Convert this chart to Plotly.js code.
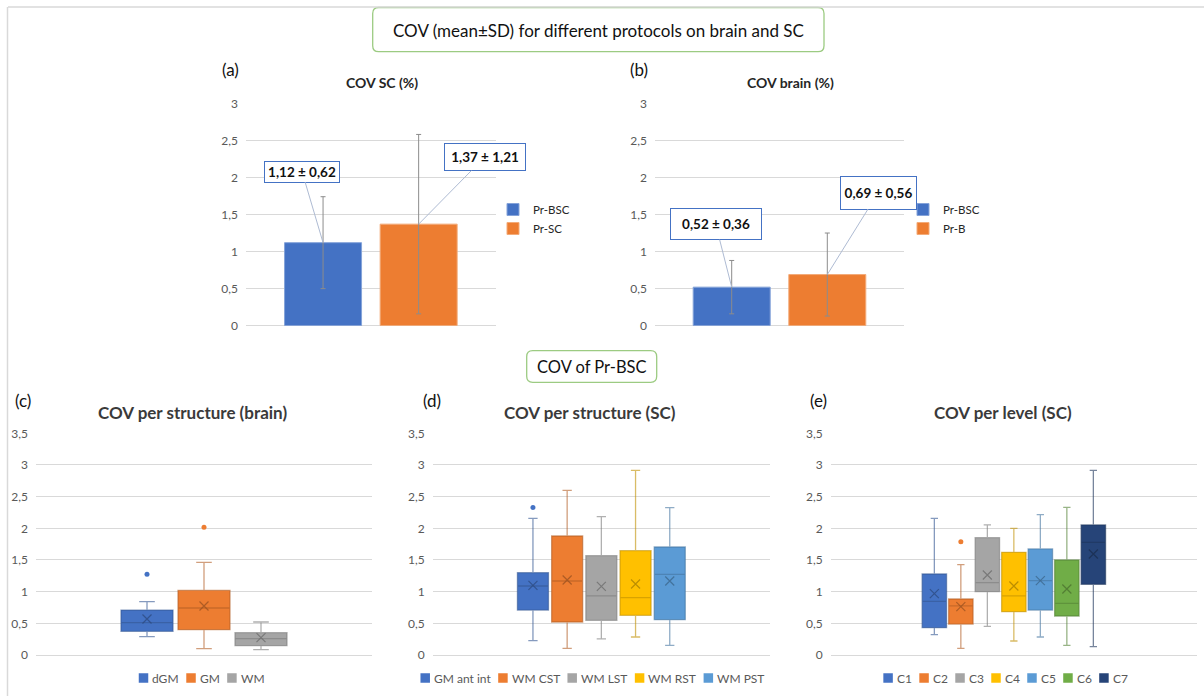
<!DOCTYPE html>
<html>
<head>
<meta charset="utf-8">
<script src="https://cdn.plot.ly/plotly-3.0.1.min.js"></script>
<style>html,body{margin:0;padding:0;background:#fff;}#chart{width:1204px;height:696px;}</style>
</head>
<body>
<div id="chart"></div>
<script>
// ---------------- DATA ----------------
// (a) COV SC (%)
const catsA = ['Pr-BSC', 'Pr-SC'];
const meanA = [1.12, 1.37];
const sdA = [0.62, 1.21];
// (b) COV brain (%)
const catsB = ['Pr-BSC', 'Pr-B'];
const meanB = [0.52, 0.69];
const sdB = [0.36, 0.56];

// (c) COV per structure (brain)
const namesC = ['dGM', 'GM', 'WM'];
const q1C = [0.374, 0.40, 0.147];
const medC = [0.51, 0.742, 0.258];
const q3C = [0.71, 1.02, 0.353];
const loC = [0.29, 0.10, 0.084];
const hiC = [0.842, 1.463, 0.521];
const avgC = [0.568, 0.774, 0.274];
const outC = [[1.274], [2.016], []];

// (d) COV per structure (SC)
const namesD = ['GM ant int', 'WM CST', 'WM LST', 'WM RST', 'WM PST'];
const q1D = [0.71, 0.521, 0.547, 0.626, 0.558];
const medD = [1.089, 1.168, 0.932, 0.905, 1.274];
const q3D = [1.30, 1.879, 1.568, 1.647, 1.705];
const loD = [0.226, 0.105, 0.253, 0.284, 0.153];
const hiD = [2.158, 2.60, 2.184, 2.916, 2.326];
const avgD = [1.10, 1.184, 1.084, 1.121, 1.168];
const outD = [[2.33], [], [], [], []];

// (e) COV per level (SC)
const namesE = ['C1', 'C2', 'C3', 'C4', 'C5', 'C6', 'C7'];
const q1E = [0.432, 0.489, 1.0, 0.684, 0.71, 0.616, 1.116];
const medE = [0.847, 0.774, 1.142, 0.932, 1.174, 0.816, 1.779];
const q3E = [1.279, 0.884, 1.853, 1.621, 1.674, 1.5, 2.053];
const loE = [0.321, 0.105, 0.453, 0.221, 0.284, 0.153, 0.132];
const hiE = [2.158, 1.426, 2.053, 2.0, 2.216, 2.332, 2.916];
const avgE = [0.968, 0.763, 1.263, 1.089, 1.174, 1.042, 1.595];
const outE = [[], [1.789], [], [], [], [], []];

// ---------------- STYLE / LAYOUT ----------------
const W = 1204, H = 696;
const FONT = 'Lato, "Open Sans", sans-serif';
const PALETTE = ['#4472C4', '#ED7D31', '#A5A5A5', '#FFC000', '#5B9BD5', '#70AD47', '#264478'];
const GRID = '#D9D9D9';
const px = v => v / W;
const py = v => 1 - v / H;

function hexRgb(h) { return [1, 3, 5].map(i => parseInt(h.substr(i, 2), 16)); }
function darker(h, f, a) {
  const c = hexRgb(h).map(v => Math.round(v * (1 - f)));
  return 'rgba(' + c.join(',') + ',' + a + ')';
}
function lighter(h, f) {
  const c = hexRgb(h).map(v => Math.round(v + (255 - v) * f));
  return 'rgb(' + c.join(',') + ')';
}
const fmt = v => v.toFixed(2).replace('.', ',');

const traces = [];
const annotations = [];
const shapes = [];

// ---- bar panels (a) & (b) ----
const barPanels = [
  {cats: catsA, mean: meanA, sd: sdA, xa: 'x', ya: 'y', legend: 'legend', plot: [246, 495.7], slot: 95.6, bar: 77,
   callout: [{ax: -21, ay: -71, w: 74, h: 20}, {ax: 66, ay: -67, w: 80, h: 26}]},
  {cats: catsB, mean: meanB, sd: sdB, xa: 'x2', ya: 'y2', legend: 'legend2', plot: [655, 904], slot: 95.6, bar: 77,
   callout: [{ax: -16, ay: -63, w: 90, h: 30}, {ax: 51, ay: -82, w: 75, h: 32}]}
];
barPanels.forEach(p => {
  const Wp = p.plot[1] - p.plot[0];
  const n = p.cats.length;
  p.cats.forEach((c, i) => {
    const pos = (i - (n - 1) / 2) * p.slot / Wp;
    const col = PALETTE[i];
    traces.push({
      type: 'bar', name: c, x: [pos], y: [p.mean[i]], width: [p.bar / Wp],
      xaxis: p.xa, yaxis: p.ya, legend: p.legend,
      marker: {color: col, line: {color: lighter(col, 0.35), width: 1}},
      error_y: {type: 'data', array: [p.sd[i]], visible: true, color: '#8C8C8C', thickness: 1, width: 2.5},
      hoverinfo: 'skip'
    });
    const co = p.callout[i];
    annotations.push({
      x: pos, y: p.mean[i], xref: p.xa, yref: p.ya,
      text: '<b>' + fmt(p.mean[i]) + ' ± ' + fmt(p.sd[i]) + '</b>',
      showarrow: true, arrowhead: 0, arrowwidth: 1, arrowcolor: '#AEBBD3', ax: co.ax, ay: co.ay,
      bordercolor: '#4472C4', borderwidth: 1, borderpad: 0, bgcolor: '#ffffff',
      width: co.w, height: co.h, font: {family: FONT, size: 13.5, color: '#111111'}
    });
  });
});

// ---- box panels (c), (d), (e) ----
const boxPanels = [
  {names: namesC, q1: q1C, med: medC, q3: q3C, lo: loC, hi: hiC, avg: avgC, out: outC,
   xa: 'x3', ya: 'y3', plot: [36, 372], slot: 57, box: 52, legendC: 201},
  {names: namesD, q1: q1D, med: medD, q3: q3D, lo: loD, hi: hiD, avg: avgD, out: outD,
   xa: 'x4', ya: 'y4', plot: [432.7, 770], slot: 34.2, box: 31, legendC: 592},
  {names: namesE, q1: q1E, med: medE, q3: q3E, lo: loE, hi: hiE, avg: avgE, out: outE,
   xa: 'x5', ya: 'y5', plot: [830.7, 1197], slot: 26.5, box: 24.4, legendC: 1005}
];

const cv = document.createElement('canvas').getContext('2d');
cv.font = '12px Lato';

boxPanels.forEach(p => {
  const Wp = p.plot[1] - p.plot[0];
  const n = p.names.length;
  p.names.forEach((nm, i) => {
    const pos = (i - (n - 1) / 2) * p.slot / Wp;
    const col = PALETTE[i];
    const lineCol = darker(col, 0.25, 0.6);
    traces.push({
      type: 'box', name: nm, orientation: 'v', x: [pos],
      q1: [p.q1[i]], median: [p.med[i]], q3: [p.q3[i]],
      lowerfence: [p.lo[i]], upperfence: [p.hi[i]],
      width: p.box / Wp, whiskerwidth: 0.3, boxpoints: false,
      fillcolor: col, line: {color: lineCol, width: 1.3},
      xaxis: p.xa, yaxis: p.ya, showlegend: false, hoverinfo: 'skip'
    });
    traces.push({
      type: 'scatter', mode: 'markers', x: [pos], y: [p.avg[i]],
      marker: {symbol: 'x-thin-open', size: 9, color: darker(col, 0.35, 0.75), line: {color: darker(col, 0.35, 0.75), width: 1.2}},
      xaxis: p.xa, yaxis: p.ya, showlegend: false, hoverinfo: 'skip'
    });
    if (p.out[i].length) {
      traces.push({
        type: 'scatter', mode: 'markers', x: p.out[i].map(() => pos), y: p.out[i],
        marker: {symbol: 'circle', size: 5, color: col},
        xaxis: p.xa, yaxis: p.ya, showlegend: false, hoverinfo: 'skip'
      });
    }
  });
  // compact legend drawn under each panel
  const sq = 9.5, g1 = 3, g2 = 8.5, yL = 678;
  const widths = p.names.map(nm => cv.measureText(nm).width);
  const total = widths.reduce((s, w) => s + sq + g1 + w, 0) + g2 * (n - 1);
  let cur = p.legendC - total / 2;
  p.names.forEach((nm, i) => {
    shapes.push({type: 'rect', xref: 'paper', yref: 'paper', x0: px(cur), x1: px(cur + sq),
      y0: py(yL + sq / 2), y1: py(yL - sq / 2), fillcolor: PALETTE[i], line: {width: 0}});
    annotations.push({xref: 'paper', yref: 'paper', x: px(cur + sq + g1 - 1), y: py(yL), xanchor: 'left', yanchor: 'middle',
      text: nm, showarrow: false, font: {family: FONT, size: 12, color: '#595959'}});
    cur += sq + g1 + widths[i] + g2;
  });
});

// ---- titles & labels ----
function addText(text, x, y, size, color, bold, anchor) {
  annotations.push({xref: 'paper', yref: 'paper', x: px(x), y: py(y), xanchor: anchor || 'center', yanchor: 'middle',
    text: bold ? '<b>' + text + '</b>' : text, showarrow: false, font: {family: FONT, size: size, color: color}});
}
addText('COV (mean±SD) for different protocols on brain and SC', 598, 30, 17, '#111111', false);
addText('COV of Pr-BSC', 591.5, 367, 16.5, '#111111', false);
addText('(a)', 230, 69, 17, '#111111', false);
addText('(b)', 639, 69, 17, '#111111', false);
addText('(c)', 23, 400, 17, '#111111', false);
addText('(d)', 432, 400, 17, '#111111', false);
addText('(e)', 818, 400, 17, '#111111', false);
addText('COV SC (%)', 381.5, 82, 14, '#262626', true);
addText('COV brain (%)', 791, 82, 14, '#262626', true);
addText('COV per structure (brain)', 192.5, 413, 17, '#3A3A3A', true);
addText('COV per structure (SC)', 590, 413, 17, '#3A3A3A', true);
addText('COV per level (SC)', 1003, 413, 17, '#3A3A3A', true);

// ---- decorative frames ----
function roundRect(x0, y0, x1, y1, r) {
  const P = (x, y) => px(x) + ',' + py(y);
  return 'M' + P(x0 + r, y0) + ' L' + P(x1 - r, y0) + ' Q' + P(x1, y0) + ' ' + P(x1, y0 + r) +
    ' L' + P(x1, y1 - r) + ' Q' + P(x1, y1) + ' ' + P(x1 - r, y1) +
    ' L' + P(x0 + r, y1) + ' Q' + P(x0, y1) + ' ' + P(x0, y1 - r) +
    ' L' + P(x0, y0 + r) + ' Q' + P(x0, y0) + ' ' + P(x0 + r, y0) + ' Z';
}
shapes.push({type: 'path', xref: 'paper', yref: 'paper', path: roundRect(372.7, 7.5, 824, 51.7, 6), line: {color: '#9CCB82', width: 1.3}, layer: 'above'});
shapes.push({type: 'path', xref: 'paper', yref: 'paper', path: roundRect(526.7, 350.7, 656.7, 382.3, 6), line: {color: '#9CCB82', width: 1.3}, layer: 'above'});
shapes.push({type: 'line', xref: 'paper', yref: 'paper', x0: px(8), x1: px(1204), y0: py(7), y1: py(7), line: {color: GRID, width: 1.5}});
shapes.push({type: 'line', xref: 'paper', yref: 'paper', x0: px(7.5), x1: px(7.5), y0: py(7), y1: py(696), line: {color: GRID, width: 1.5}});

// ---- axes ----
function xAx(plot, anchor) {
  return {domain: [px(plot[0]), px(plot[1])], range: [-0.5, 0.5], visible: false, anchor: anchor, fixedrange: true};
}
function yAx(top, bottom, maxV, anchor) {
  return {domain: [py(bottom), py(top)], range: [0, maxV], tick0: 0, dtick: 0.5, anchor: anchor,
    showgrid: true, gridcolor: GRID, gridwidth: 1, zeroline: true, zerolinecolor: GRID, zerolinewidth: 1,
    showline: false, ticks: '', ticklabelstandoff: 7, tickfont: {family: FONT, size: 12, color: '#595959'}, fixedrange: true};
}

const layout = {
  width: W, height: H, margin: {l: 0, r: 0, t: 0, b: 0},
  paper_bgcolor: '#ffffff', plot_bgcolor: 'rgba(0,0,0,0)',
  separators: ', ', font: {family: FONT, size: 12, color: '#595959'},
  showlegend: true,
  xaxis: xAx([246, 495.7], 'y'), yaxis: yAx(103.3, 325.7, 3, 'x'),
  xaxis2: xAx([655, 904], 'y2'), yaxis2: yAx(103.3, 325.7, 3, 'x2'),
  xaxis3: xAx([36, 372], 'y3'), yaxis3: yAx(433.3, 655, 3.5, 'x3'),
  xaxis4: xAx([432.7, 770], 'y4'), yaxis4: yAx(433.3, 655, 3.5, 'x4'),
  xaxis5: xAx([830.7, 1197], 'y5'), yaxis5: yAx(433.3, 655, 3.5, 'x5'),
  legend: {x: px(493), xanchor: 'left', y: py(195), yanchor: 'top', bgcolor: 'rgba(0,0,0,0)',
    font: {family: FONT, size: 11.5, color: '#262626'}, tracegroupgap: 0},
  legend2: {x: px(903), xanchor: 'left', y: py(195), yanchor: 'top', bgcolor: 'rgba(0,0,0,0)',
    font: {family: FONT, size: 11.5, color: '#262626'}, tracegroupgap: 0},
  annotations: annotations, shapes: shapes
};

Plotly.newPlot('chart', traces, layout, {displayModeBar: false, staticPlot: true});
</script>
</body>
</html>
